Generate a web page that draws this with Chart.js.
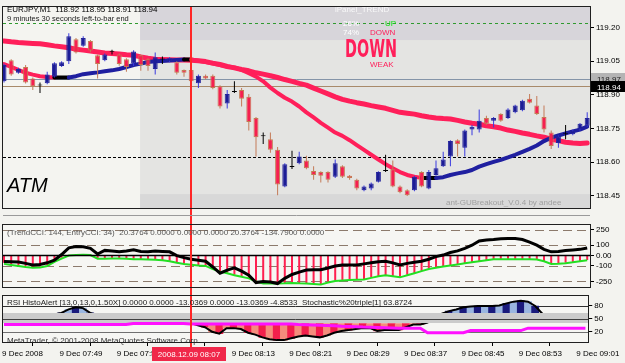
<!DOCTYPE html>
<html><head><meta charset="utf-8">
<script src="https://cdn.jsdelivr.net/npm/chart.js@4.4.1/dist/chart.umd.min.js"></script>
<style>
html,body{margin:0;padding:0;width:625px;height:363px;overflow:hidden;background:#f3f3ef;}
canvas{position:absolute;left:0;}
#c1{top:0}#c2{top:212px}#c3{top:289px}
</style></head><body>
<canvas id="c1" width="625" height="215"></canvas>
<canvas id="c2" width="625" height="82"></canvas>
<canvas id="c3" width="625" height="74"></canvas>
<script>
// ---------------- DATA ----------------
const timeTickIndex = [0,8,16,24,32,40,48,56,64,72,80];
const timeTickLabels = ["9 Dec 2008","9 Dec 07:49","9 Dec 07:57","9 Dec 08:05","9 Dec 08:13","9 Dec 08:21","9 Dec 08:29","9 Dec 08:37","9 Dec 08:45","9 Dec 08:53","9 Dec 09:01"];
const selectedBar = 26;
const selectedLabel = "2008.12.09 08:07";
const priceTicks = [119.20,119.05,118.90,118.75,118.60,118.45];
const cciTicks = [250,100,0,-100,-250];
const cciLevels = [250,100,-100,-250];
const rsiTicks = [80,50,20];

const opens = [118.960,119.054,118.998,119.024,118.973,118.943,118.951,118.981,119.028,119.050,
119.148,119.118,119.140,119.076,119.054,119.093,119.080,119.058,119.041,119.076,
119.058,119.015,119.058,119.050,119.045,119.011,119.011,118.951,118.985,118.985,
118.938,118.861,118.913,118.921,118.891,118.797,118.716,118.702,118.655,118.492,
118.579,118.595,118.608,118.561,118.556,118.556,118.535,118.582,118.539,118.522,
118.475,118.483,118.513,118.562,118.569,118.492,118.475,118.475,118.556,118.483,
118.543,118.582,118.625,118.698,118.664,118.745,118.745,118.797,118.784,118.814,
118.797,118.822,118.831,118.882,118.852,118.801,118.732,118.685,118.725,118.724,
118.745,118.762];
const highs = [119.040,119.058,119.020,119.033,118.977,118.955,119.003,119.045,119.050,119.174,
119.153,119.161,119.144,119.080,119.084,119.101,119.084,119.063,119.099,119.080,
119.063,119.088,119.071,119.067,119.050,119.013,119.015,118.990,118.990,118.990,
118.943,118.921,118.960,118.930,118.904,118.801,118.732,118.732,118.668,118.595,
118.651,118.646,118.629,118.582,118.560,118.560,118.612,118.586,118.543,118.526,
118.496,118.509,118.560,118.633,118.608,118.496,118.479,118.539,118.560,118.565,
118.608,118.646,118.698,118.702,118.745,118.766,118.835,118.807,118.801,118.818,
118.840,118.856,118.878,118.904,118.895,118.852,118.741,118.719,118.766,118.745,
118.775,118.822];
const lows = [118.955,118.985,118.994,118.950,118.921,118.908,118.947,118.977,119.024,119.037,
119.084,119.114,119.090,118.973,119.050,119.080,119.030,119.003,119.028,119.007,
119.007,118.990,119.037,119.045,118.990,118.981,118.955,118.930,118.968,118.925,
118.839,118.839,118.908,118.848,118.741,118.625,118.681,118.642,118.453,118.488,
118.570,118.591,118.569,118.522,118.509,118.509,118.530,118.530,118.522,118.475,
118.470,118.475,118.509,118.556,118.488,118.462,118.449,118.470,118.488,118.479,
118.539,118.578,118.582,118.625,118.625,118.720,118.732,118.767,118.754,118.780,
118.792,118.818,118.827,118.861,118.810,118.732,118.659,118.664,118.702,118.720,
118.741,118.758];
const closes = [119.033,118.990,119.015,118.955,118.938,118.942,118.990,119.041,119.045,119.161,
119.088,119.153,119.097,119.037,119.080,119.092,119.037,119.024,119.093,119.033,
119.028,119.067,119.057,119.063,118.998,118.998,118.960,118.985,118.973,118.930,
118.848,118.904,118.912,118.882,118.779,118.711,118.715,118.655,118.500,118.591,
118.578,118.625,118.573,118.543,118.539,118.522,118.595,118.535,118.530,118.483,
118.492,118.505,118.556,118.561,118.492,118.466,118.453,118.535,118.492,118.556,
118.573,118.612,118.694,118.681,118.741,118.758,118.784,118.771,118.797,118.784,
118.835,118.852,118.874,118.865,118.814,118.745,118.672,118.715,118.724,118.741,
118.771,118.797];

const maFast = [119.037,119.024,119.011,118.998,118.990,118.983,118.979,118.977,118.977,118.977,
118.983,118.992,118.996,119.000,119.005,119.009,119.015,119.024,119.033,119.039,
119.046,119.049,119.051,119.053,119.055,119.057,119.057,119.052,119.046,119.039,
119.033,119.026,119.022,119.011,118.996,118.981,118.960,118.932,118.908,118.887,
118.870,118.848,118.822,118.799,118.775,118.754,118.732,118.717,118.698,118.676,
118.655,118.633,118.612,118.591,118.573,118.556,118.543,118.535,118.530,118.530,
118.530,118.533,118.543,118.550,118.556,118.565,118.580,118.591,118.601,118.610,
118.621,118.633,118.646,118.659,118.674,118.694,118.709,118.719,118.728,118.737,
118.745,118.758];
const maSlow = [119.140,119.136,119.133,119.131,119.129,119.127,119.123,119.118,119.114,119.110,
119.103,119.099,119.095,119.091,119.086,119.084,119.082,119.078,119.076,119.069,
119.063,119.058,119.057,119.056,119.055,119.055,119.054,119.052,119.048,119.041,
119.035,119.026,119.020,119.013,119.007,118.998,118.992,118.985,118.977,118.968,
118.960,118.951,118.943,118.930,118.917,118.904,118.891,118.880,118.872,118.865,
118.859,118.852,118.846,118.840,118.831,118.822,118.818,118.814,118.807,118.801,
118.797,118.794,118.792,118.786,118.779,118.773,118.769,118.762,118.758,118.752,
118.743,118.737,118.730,118.724,118.717,118.711,118.702,118.696,118.689,118.685,
118.683,118.685];

const cciBlack = [-57,-60,-63,-75,-90,-85,-70,-45,10,75,
88,85,70,15,50,45,38,45,55,40,
38,45,40,36,0,-20,-36,-45,-55,-110,
-170,-140,-118,-150,-190,-260,-250,-255,-270,-220,
-182,-160,-140,-136,-136,-120,-100,-90,-90,-90,
-80,-70,-60,-55,-70,-90,-75,-65,-55,-35,
-10,5,30,45,70,100,140,150,155,162,
165,165,155,130,100,60,36,40,50,55,
60,73];
const cciGreen = [-80,-90,-100,-110,-118,-115,-100,-60,-30,0,
5,9,5,-30,-30,-28,-27,-30,-35,-36,
-38,-40,-45,-55,-70,-82,-88,-95,-100,-130,
-155,-170,-190,-205,-220,-250,-270,-270,-270,-268,
-264,-268,-270,-275,-280,-260,-245,-240,-235,-232,
-230,-215,-200,-190,-200,-210,-190,-170,-150,-130,
-118,-105,-95,-85,-75,-64,-55,-45,-36,-36,
-36,-36,-36,-36,-38,-55,-80,-78,-73,-65,
-55,-45];
const cciHist = [-70,-85,-95,-100,-110,-105,-90,-50,-20,0,
0,0,0,-25,-28,-25,-25,-28,-30,-32,
-35,-38,-42,-50,-65,-78,-85,-92,-98,-125,
-150,-165,-185,-200,-215,-245,-265,-268,-268,-265,
-262,-265,-268,-272,-275,-258,-242,-238,-232,-228,
-226,-212,-198,-188,-196,-205,-186,-168,-148,-128,
-115,-102,-92,-82,-72,-62,-52,-42,-34,-34,
-34,-34,-34,-34,-36,-52,-76,-75,-70,-62,
-52,-42];

const rsiValues = [50,52,50,45,44,48,55,60,64,72,
77,75,64,58,56,58,55,52,55,52,
50,55,56,54,52,48,41.5,35,30.7,20,
15.8,28.6,28.6,26.5,18,13.6,7.2,3,0.8,0.8,
5,9.3,11.5,9.3,7.2,11.5,18,22,24,26.5,
28.6,28.6,22,24,24,24,30.7,37,37,41.5,
52,62,68,72,77,79,80,80,80,81,
86,90,92,90,80,62,55,52,54,56,
57,58];
const signalValues = [37,37,37,37,37,37,37,37,37,37,
37,37,37,37,37,37,37,37,39.5,39.5,
39.5,39.5,39.5,39.5,39.5,39.5,38,38,38,38,
38,38,38,38,38,38,38,38,38,38,
38,37,36.5,36,35,34.5,34,33,32.5,32,
31,30.5,30,29.5,29,28.6,28.6,28.6,28.6,18,
18,18,18,18,18,23,23,23,23,23,
23,23,23,28.6,28.6,28.6,28.6,28.6,28.6,28.6,
28.6,28.6];
const rsiUpper = 63, rsiLower = 39;

// chart objects (price levels / time)
const sessionStartBar = 18.9;
const panelTopPrice = 119.144, panelBottomPrice = 118.458;
const greenLinePrice = 119.221, askPrice = 118.97, bidPrice = 118.94, dashLinePrice = 118.623;

// ---------------- HELPERS ----------------
const FONT = '"Liberation Sans", Arial, sans-serif';
Chart.defaults.font.family = FONT;
Chart.defaults.font.size = 8;
Chart.defaults.color = '#000';
const idx = opens.map((_, i) => i);
const xMin = -0.14, xMax = 81.39;
const RED = '#ff1f5a', NAVY = '#1c1c96', VRED = '#ff2626';
function dir(i){ const d = closes[i]-opens[i]; return d > 0.002 ? 1 : (d < -0.002 ? -1 : 0); }
function hline(ctx,a,y,color,dash,w){ctx.save();ctx.strokeStyle=color;ctx.lineWidth=w||1;ctx.setLineDash(dash||[]);ctx.beginPath();const p=Math.round(y)+0.5;ctx.moveTo(a.left,p);ctx.lineTo(a.right,p);ctx.stroke();ctx.restore();}
function vline(ctx,x,y0,y1,color){ctx.save();ctx.fillStyle=color;ctx.fillRect(Math.round(x)-1,y0,2,y1-y0);ctx.restore();}
function frame(ctx,a){ctx.save();ctx.strokeStyle='#202020';ctx.lineWidth=1;ctx.strokeRect(Math.round(a.left)-0.5,Math.round(a.top)-0.5,Math.round(a.right-a.left)+1,Math.round(a.bottom-a.top)+1);ctx.restore();}
function txt(ctx,s,x,y,font,color,maxW,align){ctx.save();ctx.font=font;ctx.fillStyle=color;ctx.textAlign=align||'left';ctx.textBaseline='alphabetic';if(maxW)ctx.fillText(s,x,y,maxW);else ctx.fillText(s,x,y);ctx.restore();}
const xScaleOpts = {type:'linear',min:xMin,max:xMax,offset:false,display:false};
const baseOpts = {responsive:false,animation:false,devicePixelRatio:1,events:[],plugins:{legend:{display:false},tooltip:{enabled:false}}};
function rightAxis(min,max,ticks,fmt){
  return {position:'right',min:min,max:max,
    afterBuildTicks:s=>{s.ticks=ticks.map(v=>({value:v}));},
    afterFit:s=>{s.width=35;},
    grid:{drawOnChartArea:false,drawTicks:true,tickLength:4,color:'#000'},
    border:{display:false},
    ticks:{padding:2,color:'#000',font:{size:8},callback:fmt}};
}

// ---------------- MAIN CHART ----------------
const mainDecor = {
  id:'mainDecor',
  beforeDatasetsDraw(chart){
    const {ctx,chartArea:a,scales:{x,y}} = chart;
    ctx.save();
    ctx.fillStyle='#f4f4f0';ctx.fillRect(a.left,a.top,a.right-a.left,a.bottom-a.top);
    const sx = x.getPixelForValue(sessionStartBar);
    ctx.fillStyle='#e4e4e2';ctx.fillRect(sx,a.top,a.right-sx,a.bottom-a.top);
    const ty = y.getPixelForValue(panelTopPrice);
    ctx.fillStyle='#d7d5da';ctx.fillRect(sx,a.top,a.right-sx,ty-a.top);
    const by = y.getPixelForValue(panelBottomPrice);
    ctx.fillStyle='#d8d8d8';ctx.fillRect(sx,by,a.right-sx,a.bottom-by);
    ctx.restore();
    hline(ctx,a,y.getPixelForValue(greenLinePrice),'#2f9a2f',[3,3]);
    hline(ctx,a,y.getPixelForValue(askPrice),'#8494a8');
    hline(ctx,a,y.getPixelForValue(bidPrice),'#a88a6a');
    hline(ctx,a,y.getPixelForValue(dashLinePrice),'#000',[3,2]);
  },
  afterDatasetsDraw(chart){
    const {ctx,chartArea:a,scales:{x,y}} = chart;
    vline(ctx,x.getPixelForValue(selectedBar),a.top,chart.height,VRED);
    txt(ctx,'EURJPY,M1  118.92 118.95 118.91 118.94',7,12,'8px '+FONT,'#000');
    txt(ctx,'9 minutes 30 seconds left-to-bar end',7,21,'7.5px '+FONT,'#202020');
    txt(ctx,'iPanel_TREND',335,12,'8px '+FONT,'#f8f8f8');
    txt(ctx,'26%',343,26,'8px '+FONT,'#ffffff');
    txt(ctx,'UP',385,26,'8px '+FONT,'#10e010');
    txt(ctx,'74%',343,35,'8px '+FONT,'#ffffff');
    txt(ctx,'DOWN',370,35,'8px '+FONT,RED);
    txt(ctx,'DOWN',345,57,'bold 25px "Liberation Sans Narrow", "DejaVu Sans Condensed", '+FONT,RED,52);
    txt(ctx,'WEAK',370,67,'8px '+FONT,RED);
    txt(ctx,'ATM',7,192,'italic 20px '+FONT,'#000');
    txt(ctx,'ant-GUBreakout_V.0.4 by andee',446,205,'8px '+FONT,'#a0a0a0');
    frame(ctx,a);
    const ay = y.getPixelForValue(askPrice), byy = y.getPixelForValue(bidPrice);
    ctx.save();
    ctx.fillStyle='#b4b4b4';ctx.fillRect(591,Math.round(ay)-6,34,11);
    txt(ctx,'118.97',597,Math.round(ay)+3,'8px '+FONT,'#202020');
    ctx.fillStyle='#000';ctx.fillRect(591,Math.round(byy)-5,34,11);
    txt(ctx,'118.94',597,Math.round(byy)+4,'8px '+FONT,'#fff');
    ctx.restore();
  }
};
new Chart(document.getElementById('c1'),{
  type:'line',
  data:{datasets:[
    {type:'bar',label:'body',data:idx.map(i=>({x:i,y:[opens[i],closes[i]]})),
     backgroundColor:idx.map(i=>dir(i)>0?NAVY:(dir(i)<0?'#f5204f':'#000')),
     borderColor:idx.map(i=>dir(i)>0?'#24249c':(dir(i)<0?'#c47a52':'#000')),
     borderWidth:1,borderSkipped:false,grouped:false,maxBarThickness:5,minBarLength:1,order:0},
    {type:'bar',label:'wick',data:idx.map(i=>({x:i,y:[lows[i],highs[i]]})),
     backgroundColor:idx.map(i=>dir(i)>0?'#3a3ae0':(dir(i)<0?'#c47a58':'#000')),
     grouped:false,maxBarThickness:1,order:1},
    {type:'line',label:'fast',data:idx.map(i=>({x:i,y:maFast[i]})),borderColor:NAVY,borderWidth:4,pointRadius:0,
     borderCapStyle:'round',borderJoinStyle:'round',
     segment:{borderColor:c=>{const d=maFast[c.p1DataIndex]-maFast[c.p0DataIndex];return d>0.0015?'#1f1fa0':(d<-0.0015?RED:'#000');}},order:2},
    {type:'line',label:'slow',data:idx.map(i=>({x:i,y:maSlow[i]})),borderColor:RED,borderWidth:5,pointRadius:0,
     borderCapStyle:'round',borderJoinStyle:'round',order:3}
  ]},
  options:Object.assign({},baseOpts,{
    layout:{padding:{left:3,top:3,right:0,bottom:3}},
    scales:{x:xScaleOpts,y:rightAxis(118.395,119.292,priceTicks,v=>v.toFixed(2))}
  }),
  plugins:[mainDecor]
});

// ---------------- CCI CHART ----------------
const cciDecor = {
  id:'cciDecor',
  beforeDatasetsDraw(chart){
    const {ctx,chartArea:a,scales:{x,y}} = chart;
    ctx.save();ctx.fillStyle='#f6f6f3';ctx.fillRect(a.left,a.top,a.right-a.left,a.bottom-a.top);ctx.restore();
    cciLevels.forEach(v=>hline(ctx,a,y.getPixelForValue(v),'#8c7a6c',[9,5]));
  },
  afterDatasetsDraw(chart){
    const {ctx,chartArea:a,scales:{x,y}} = chart;
    hline(ctx,a,y.getPixelForValue(0)-0.5,'#000',[],1.5);
    vline(ctx,x.getPixelForValue(selectedBar),0,chart.height,VRED);
    ctx.save();ctx.strokeStyle='#9a9a9a';ctx.beginPath();ctx.moveTo(a.left,3.5);ctx.lineTo(a.right,3.5);ctx.stroke();ctx.restore();
    txt(ctx,'(TrendCCI: 144, EntryCCI: 34)  20.3764 0.0000 0.0000 0.0000 20.3764 -134.7900 0.0000',7,a.top+10,'8px '+FONT,'#555');
    frame(ctx,a);
  }
};
new Chart(document.getElementById('c2'),{
  type:'line',
  data:{datasets:[
    {type:'line',label:'cciBlack',data:idx.map(i=>({x:i,y:cciBlack[i]})),borderColor:'#000',borderWidth:3,pointRadius:0,order:0},
    {type:'line',label:'cciGreen',data:idx.map(i=>({x:i,y:cciGreen[i]})),borderColor:'#22e022',borderWidth:2,pointRadius:0,order:1},
    {type:'bar',label:'cciHist',data:idx.map(i=>({x:i,y:cciHist[i]})),backgroundColor:'#ff1f50',grouped:false,maxBarThickness:2,order:2}
  ]},
  options:Object.assign({},baseOpts,{
    layout:{padding:{left:3,top:13,right:0,bottom:3}},
    scales:{x:xScaleOpts,y:rightAxis(-305,295,cciTicks,v=>v===0?'0.00':String(v))}
  }),
  plugins:[cciDecor]
});

// ---------------- RSI / STOCH CHART ----------------
const rsiDecor = {
  id:'rsiDecor',
  beforeDatasetsDraw(chart){
    const {ctx,chartArea:a,scales:{x,y}} = chart;
    ctx.save();ctx.fillStyle='#f6f6f3';ctx.fillRect(a.left,a.top,a.right-a.left,a.bottom-a.top);ctx.restore();
    hline(ctx,a,y.getPixelForValue(80),'#303030');
    hline(ctx,a,y.getPixelForValue(20),'#707070');
  },
  afterDatasetDraw(chart,args){
    if(args.index!==1) return;
    const {ctx,chartArea:a,scales:{y}} = chart;
    const t=y.getPixelForValue(rsiUpper), b=y.getPixelForValue(rsiLower);
    ctx.save();ctx.fillStyle='#cbcbcb';ctx.fillRect(a.left,Math.round(t),a.right-a.left,Math.round(b-t));ctx.restore();
    hline(ctx,a,y.getPixelForValue(50),'#404040');
  },
  afterDatasetsDraw(chart){
    const {ctx,chartArea:a,scales:{x,y}} = chart;
    const sx=x.getPixelForValue(selectedBar);
    vline(ctx,sx,0,58,VRED);
    txt(ctx,'RSI HistoAlert [13,0,13,0,1.50X] 0.0000 0.0000 -13.0369 0.0000 -13.0369 -4.8533  Stochastic%20triple[1] 63.8724',7,a.top+9,'8px '+FONT,'#202020');
    txt(ctx,'MetaTrader, \u00a9 2001-2008 MetaQuotes Software Corp.',7,a.bottom+1,'8px '+FONT,'#303030');
    frame(ctx,a);
  },
  afterDraw(chart){
    const {ctx,scales:{x}} = chart;
    const sx=Math.round(x.getPixelForValue(selectedBar));
    ctx.save();ctx.fillStyle='#f0284a';ctx.fillRect(sx-39,58,74,14);ctx.restore();
    txt(ctx,selectedLabel,sx-2,68,'8px '+FONT,'#fff',null,'center');
  }
};
new Chart(document.getElementById('c3'),{
  type:'line',
  data:{datasets:[
    {type:'line',label:'signal',data:idx.map(i=>({x:i,y:signalValues[i]})),borderColor:'#ff10ff',borderWidth:3,pointRadius:0,order:0},
    {type:'line',label:'rsi',data:idx.map(i=>({x:i,y:rsiValues[i]})),borderColor:'#000',borderWidth:2,pointRadius:0,order:1},
    {type:'bar',label:'up',data:idx.map(i=>({x:i,y:rsiValues[i]>rsiUpper?[rsiUpper,rsiValues[i]]:null})),
     backgroundColor:idx.map(i=>i%2?'#9ab6e0':'#1a1a7c'),grouped:false,barPercentage:1,categoryPercentage:1,order:2},
    {type:'bar',label:'down',data:idx.map(i=>({x:i,y:rsiValues[i]<rsiLower?[rsiValues[i],rsiLower]:null})),
     backgroundColor:idx.map(i=>i%2?'#f58c7c':'#f2204c'),grouped:false,barPercentage:1,categoryPercentage:1,order:3}
  ]},
  options:Object.assign({},baseOpts,{
    layout:{padding:{left:3,top:3,right:0,bottom:0}},
    scales:{
      x:{type:'linear',min:xMin,max:xMax,offset:false,position:'bottom',
        afterBuildTicks:s=>{s.ticks=timeTickIndex.map(v=>({value:v}));},
        afterFit:s=>{s.height=21;},
        grid:{drawOnChartArea:false,drawTicks:true,tickLength:4,color:'#000'},
        border:{display:false},
        ticks:{autoSkip:false,maxRotation:0,minRotation:0,align:'start',labelOffset:-2,padding:3,color:'#000',font:{size:8},
          callback:(v,k)=>timeTickLabels[k]}},
      y:rightAxis(-3.55,103.55,rsiTicks,v=>String(v))
    }
  }),
  plugins:[rsiDecor]
});
</script></body></html>
